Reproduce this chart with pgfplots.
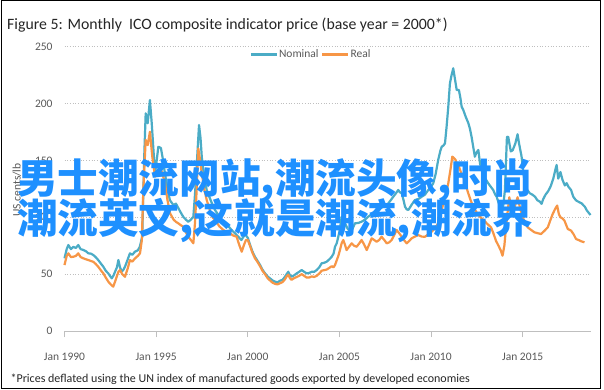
\documentclass[border=0pt]{standalone}
\usepackage{pgfplots}
\pgfplotsset{compat=1.18}
\usepackage{fontspec}
\setmainfont{Carlito}
\newfontfamily\cjk{Noto Sans CJK SC}
\definecolor{nomc}{RGB}{75,172,198}
\definecolor{realc}{RGB}{247,150,70}
\definecolor{wm}{RGB}{30,144,255}
\definecolor{txt}{RGB}{89,89,89}
\definecolor{gridc}{RGB}{191,191,191}
\definecolor{titc}{RGB}{38,38,38}

\pgfplotstableread{
x y
1990.00 63.9
1990.12 72
1990.21 75.6
1990.35 72
1990.48 74
1990.62 73
1990.75 75.6
1990.88 72
1991.03 71.2
1991.18 70
1991.30 68.3
1991.45 68
1991.57 66.8
1991.70 65
1991.84 62.4
1992.00 59
1992.12 56.5
1992.25 53
1992.39 50.6
1992.50 48
1992.58 46.3
1992.68 49
1992.76 52.2
1992.86 56
1992.94 62.4
1993.03 56
1993.12 52.2
1993.22 54
1993.30 56.5
1993.45 63
1993.57 68.3
1993.70 67
1993.84 69.7
1994.00 71
1994.11 74.1
1994.24 82.9
1994.35 153.2
1994.43 191.4
1994.54 182.6
1994.66 203.1
1994.76 182.6
1994.85 160
1994.94 138.6
1995.03 150
1995.12 162.0
1995.26 160.9
1995.38 150
1995.48 138.6
1995.62 125
1995.75 115.1
1995.94 110.7
1996.08 112
1996.21 108.1
1996.35 104
1996.48 100.4
1996.62 98
1996.75 96.0
1996.90 98
1997.03 100.4
1997.12 120
1997.21 144.4
1997.34 181.1
1997.42 170
1997.49 153.2
1997.62 135
1997.76 124.0
1997.90 118
1998.05 112
1998.21 106.4
1998.40 102
1998.55 98
1998.76 94.6
1998.95 92
1999.12 88.7
1999.30 86
1999.48 82.9
1999.65 80
1999.85 85
2000.00 82
2000.12 76
2000.25 70
2000.39 65.3
2000.52 62
2000.67 58
2000.80 54
2000.94 50.7
2001.08 48
2001.21 46.3
2001.35 44.5
2001.48 43.4
2001.62 42.8
2001.76 44.2
2001.90 45
2002.03 47.7
2002.12 50
2002.21 52.1
2002.30 49
2002.39 47.7
2002.53 49
2002.67 50.7
2002.80 52
2002.94 53.6
2003.08 52
2003.21 50.7
2003.35 51
2003.49 52.1
2003.62 52
2003.76 53.6
2003.90 56
2004.03 59.5
2004.17 60
2004.30 60.9
2004.45 63
2004.58 65.3
2004.68 68
2004.76 74.1
2004.85 77
2004.94 82.9
2005.03 90
2005.12 100.5
2005.20 98
2005.30 94.7
2005.45 90
2005.58 87.3
2005.72 90
2005.85 94.7
2006.03 95
2006.21 96.1
2006.40 98
2006.57 100.5
2006.70 102
2006.85 103.5
2007.00 105
2007.12 106.4
2007.25 108
2007.39 109.3
2007.52 110
2007.67 112.3
2007.80 115
2007.94 118.1
2008.08 121
2008.21 124
2008.30 122
2008.40 121.1
2008.50 115
2008.58 109.3
2008.67 107
2008.76 106.4
2008.94 111
2009.12 115.2
2009.30 116
2009.49 118.1
2009.67 120
2009.85 124
2010.00 127
2010.12 129.9
2010.25 138
2010.39 150.4
2010.50 158
2010.58 162
2010.67 163
2010.76 165
2010.85 180
2010.94 197.2
2011.03 217.8
2011.12 225
2011.21 231
2011.30 222
2011.40 211.9
2011.52 211.9
2011.60 205
2011.67 197.2
2011.76 194.3
2011.89 188.4
2012.03 183
2012.12 178
2012.21 170.8
2012.30 162
2012.39 153.3
2012.48 157
2012.58 159.2
2012.67 147.5
2012.76 142
2012.85 135.7
2013.00 133
2013.12 129.9
2013.25 127
2013.39 124
2013.50 120
2013.58 118.1
2013.70 112
2013.82 108
2013.94 110
2014.03 124
2014.14 170.6
2014.21 170.8
2014.35 158
2014.45 158.8
2014.60 165
2014.72 173
2014.80 165
2014.94 153.3
2015.03 140
2015.12 129.9
2015.25 124
2015.39 121.1
2015.52 120
2015.67 118.1
2015.80 115
2015.94 113.7
2016.03 111.8
2016.12 116
2016.25 120
2016.39 123
2016.52 127
2016.67 134
2016.80 143
2016.85 146
2016.94 134
2017.06 139.8
2017.17 133
2017.30 128
2017.40 130
2017.49 127
2017.64 124
2017.76 118.1
2017.90 115
2018.00 114
2018.21 112.3
2018.39 109.3
2018.50 106
2018.70 102
}\nominal

\pgfplotstableread{
x y
1990.00 58
1990.12 66
1990.21 68.3
1990.35 65
1990.48 65.3
1990.62 66
1990.75 68.3
1990.88 65
1991.03 63.9
1991.18 63
1991.30 62.4
1991.45 61.5
1991.57 60.9
1991.70 59
1991.84 56.5
1992.00 53
1992.12 50.7
1992.25 47
1992.39 43.4
1992.52 41
1992.66 39
1992.75 43
1992.85 47.7
1992.94 52
1993.03 53.6
1993.15 50
1993.30 47.7
1993.45 55
1993.57 62.4
1993.70 61
1993.85 63.9
1994.00 66
1994.12 68.3
1994.22 80
1994.30 124
1994.43 168
1994.54 163.5
1994.66 175.2
1994.79 153.3
1994.94 135.7
1995.08 140
1995.21 144.5
1995.35 138
1995.48 129.9
1995.62 115
1995.76 103.5
1995.95 98
1996.08 96
1996.21 94.7
1996.35 93
1996.48 91.7
1996.62 87
1996.75 82.9
1996.90 80
1997.03 77.1
1997.12 95
1997.21 124
1997.30 160.6
1997.40 150
1997.49 138.7
1997.62 125
1997.76 115.2
1997.95 105
1998.08 100
1998.21 97.6
1998.45 92
1998.67 88.8
1998.85 87
1999.03 85.9
1999.20 84
1999.39 82.9
1999.55 75
1999.67 69.7
1999.80 76
1999.90 80
2000.00 80
2000.12 75
2000.25 69
2000.39 64
2000.52 61
2000.67 57
2000.80 53
2000.94 50
2001.08 46.5
2001.21 44.5
2001.35 42.5
2001.48 41.5
2001.62 41
2001.76 42
2001.90 43
2002.03 45.5
2002.12 48
2002.21 49.5
2002.30 46.5
2002.39 45
2002.53 46.5
2002.67 47.5
2002.80 48.5
2002.94 50
2003.08 48.5
2003.21 47
2003.35 47
2003.49 48
2003.62 47.5
2003.76 48.5
2003.90 50.5
2004.03 53
2004.17 53.5
2004.30 54
2004.45 55.5
2004.58 57
2004.68 56
2004.76 58
2004.85 62
2004.94 66
2005.03 71.2
2005.12 77
2005.21 80
2005.30 76
2005.39 71.2
2005.52 74
2005.67 77.1
2005.80 75
2005.94 74.1
2006.08 77
2006.21 80
2006.35 76
2006.49 71.2
2006.62 76
2006.76 81.5
2006.90 80
2007.03 78.5
2007.17 80
2007.30 82.9
2007.45 80
2007.58 77.1
2007.72 78
2007.85 80
2007.98 84
2008.12 88.8
2008.26 86
2008.40 82.9
2008.52 80
2008.67 77.1
2008.80 79
2008.94 81.5
2009.12 83
2009.30 84.4
2009.49 83
2009.67 82.9
2009.85 85
2010.03 87.3
2010.20 90
2010.39 94.7
2010.52 102
2010.67 112.3
2010.80 120
2010.94 129.9
2011.06 142
2011.16 153.3
2011.25 152
2011.34 150.4
2011.43 146
2011.52 144.5
2011.64 139
2011.76 135.7
2011.90 128
2012.03 121.1
2012.16 115
2012.30 109.3
2012.42 106
2012.54 103
2012.70 100
2012.90 97
2013.08 94
2013.27 91.2
2013.40 86
2013.54 79.4
2013.68 75
2013.81 70.6
2013.90 66.2
2014.00 75
2014.09 91.2
2014.18 105
2014.27 117.6
2014.36 110
2014.45 103
2014.58 110
2014.72 117.6
2014.86 108
2015.00 100
2015.14 95
2015.27 91.2
2015.45 89
2015.64 86.8
2015.82 86
2016.00 85.3
2016.18 88
2016.37 91.2
2016.50 97
2016.64 103
2016.76 107
2016.88 110.3
2016.97 103
2017.06 100
2017.17 99
2017.28 97
2017.46 89.7
2017.64 88.3
2017.78 85
2017.91 80.9
2018.05 80
2018.19 78.9
2018.37 78
}\realdata

\begin{document}
\begin{tikzpicture}
\path[use as bounding box] (0bp,0bp) rectangle (604bp,390bp);
\fill[white] (0bp,0bp) rectangle (604bp,390bp);
\draw[black, line width=1bp] (1bp,1.5bp) rectangle (600bp,389bp);
\node[anchor=base west, inner sep=0pt, text=titc, font=\fontsize{15.8bp}{18bp}\selectfont] at (7bp,360bp) {Figure 5: Monthly\ \ ICO composite indicator price (base year = 2000*)};
\node[anchor=base west, inner sep=0pt, text=titc, font=\fontsize{12bp}{14bp}\selectfont] at (10.4bp,8bp) {*Prices deflated using the UN index of manufactured goods exported by developed economies};
\node[rotate=90, inner sep=0pt, text=txt, font=\fontsize{11.5bp}{13bp}\selectfont] at (17bp,200bp) {US cents/lb};
\begin{axis}[
  at={(64.5bp,59bp)}, anchor=south west,
  scale only axis, width=526bp, height=284.3bp,
  xmin=1990, xmax=2018.7, ymin=0, ymax=250,
  axis x line*=bottom, axis y line*=left,
  x axis line style={draw=gridc, line width=0.8bp, -},
  y axis line style={draw=none},
  xtick={1990,1995,2000,2005,2010,2015},
  xticklabels={Jan 1990,Jan 1995,Jan 2000,Jan 2005,Jan 2010,Jan 2015},
  ytick={0,50,100,150,200,250},
  xtick align=outside, major tick length=6bp,
  xtick style={draw=gridc, line width=0.8bp},
  ytick style={draw=none},
  ymajorgrids, grid style={gridc, line width=0.9bp, dash pattern=on 0.9bp off 1.8bp},
  /pgf/number format/assume math mode=true,
  ticklabel style={font=\fontsize{11.5bp}{13bp}\selectfont, text=txt},
  xticklabel style={anchor=base, inner sep=0pt, yshift=-23bp},
  yticklabel style={anchor=base east, inner sep=0pt, xshift=-11.8bp, yshift=-3.6bp},
  legend style={at={(0.4677,0.973)}, anchor=center, draw=none, fill=none, legend columns=-1,
    font=\fontsize{11.5bp}{13bp}\selectfont, text=txt, inner sep=0pt,
    nodes={inner sep=1bp},
    /tikz/every even column/.append style={column sep=1.5bp}},
  legend image code/.code={\draw[#1, line width=2.5bp] (0bp,0bp) -- (26bp,0bp);},
  clip=false,
]
\addplot[nomc, line width=2.2bp, line join=round] table[x=x,y=y] {\nominal};
\addlegendentry{Nominal}
\addplot[realc, line width=2.2bp, line join=round] table[x=x,y=y] {\realdata};
\addlegendentry{Real}
\end{axis}
\node[anchor=base west, inner sep=0pt, text=wm, font=\cjk\bfseries\fontsize{40.6bp}{40bp}\selectfont] at (17bp,196bp) {男士潮流网站,潮流头像,时尚};
\node[anchor=base west, inner sep=0pt, text=wm, font=\cjk\bfseries\fontsize{40.6bp}{40bp}\selectfont] at (17bp,156bp) {潮流英文,这就是潮流,潮流界};
\end{tikzpicture}
\end{document}
